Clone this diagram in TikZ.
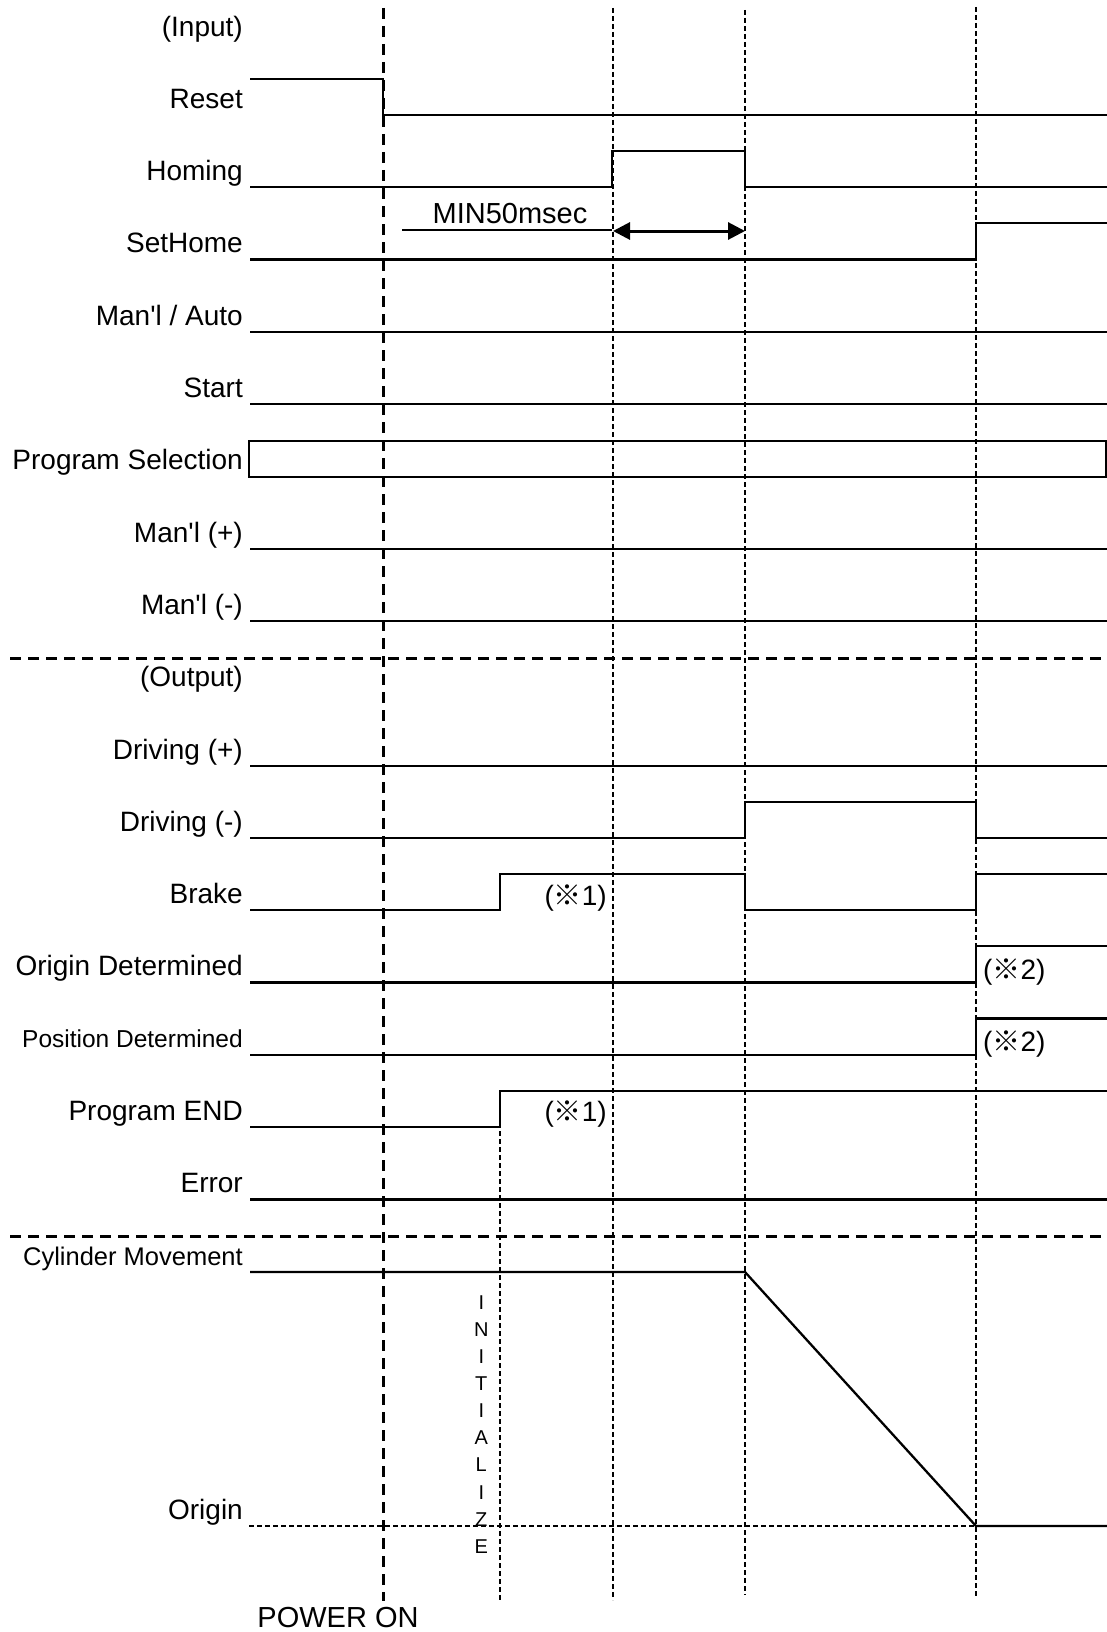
\documentclass[tikz,border=0pt]{standalone}
\usepackage{fontspec}
\setmainfont{Liberation Sans}
\newfontfamily\arialfont{Liberation Sans}
\newfontfamily\cjkfont{Noto Sans CJK JP}
\usetikzlibrary{arrows.meta}
\newcommand{\komemark}{{\cjkfont ※}}
\begin{document}
\begin{tikzpicture}[x=1pt,y=-1pt,
  sig/.style={line width=2.3pt, line join=miter},
  thickdash/.style={line width=3pt, dash pattern=on 11pt off 7pt},
  thindash/.style={line width=1.6pt, dash pattern=on 5pt off 3pt},
  lbl/.style={anchor=base east, inner sep=0pt, font=\arialfont\fontsize{28}{32}\selectfont},
  smalllbl/.style={anchor=base east, inner sep=0pt, font=\arialfont\fontsize{24.5}{28}\selectfont},
  note/.style={inner sep=0pt, font=\arialfont\fontsize{28}{32}\selectfont},
  initletter/.style={inner sep=0pt, anchor=center, font=\arialfont\fontsize{20}{24}\selectfont},
  dimarrow/.style={line width=3pt, {Triangle[length=17pt,width=17pt]}-{Triangle[length=17pt,width=17pt]}}
]
\useasboundingbox (0,0) rectangle (1107,1632);

% ---- labels
\node[lbl] (lInput) at (243,36.5) {(Input)};
\node[lbl] (lReset) at (243,108.3) {Reset};
\node[lbl] (lHoming) at (243,180.6) {Homing};
\node[lbl] (lSetHome) at (243,252.9) {SetHome};
\node[lbl] (lManAuto) at (243,325.2) {Man'l / Auto};
\node[lbl] (lStart) at (243,397.5) {Start};
\node[lbl] (lProgSel) at (243,469.8) {Program Selection};
\node[lbl] (lManP) at (243,542.1) {Man'l (+)};
\node[lbl] (lManM) at (243,614.4) {Man'l (-)};
\node[lbl] (lOutput) at (243,686.7) {(Output)};
\node[lbl] (lDrvP) at (243,759.0) {Driving (+)};
\node[lbl] (lDrvM) at (243,831.3) {Driving (-)};
\node[lbl] (lBrake) at (243,903.6) {Brake};
\node[lbl] (lOrgDet) at (243,975.9) {Origin Determined};
\node[smalllbl] (lPosDet) at (243,1047.7) {Position Determined};
\node[lbl] (lPEnd) at (243,1120.5) {Program END};
\node[lbl] (lError) at (243,1192.8) {Error};
\node[anchor=base east, inner sep=0pt, font=\arialfont\fontsize{25.5}{29}\selectfont] (lCyl) at (243,1265) {Cylinder Movement};
\node[lbl] (lOrigin) at (243,1519) {Origin};

% ---- vertical timing lines
\draw[thickdash] (383,8) -- (383,1601);
\draw[thindash] (613,8) -- (613,1600);
\draw[thindash] (745,10) -- (745,1595);
\draw[thindash] (976,7) -- (976,1598);
\draw[thindash] (500,1091) -- (500,1601);

% ---- section separators
\draw[thickdash] (10,658.7) -- (1107,658.7);
\draw[thickdash] (10,1236.5) -- (1107,1236.5);

% ---- inputs
\draw[sig] (250,78.7) -- (383,78.7) -- (383,115) -- (1107,115);
\draw[sig] (250,187.3) -- (612,187.3) -- (612,151) -- (745,151) -- (745,187.3) -- (1107,187.3);
\draw[sig] (250,259.6) -- (976,259.6) -- (976,223.3) -- (1107,223.3);
\draw[sig] (250,331.9) -- (1107,331.9);
\draw[sig] (250,404.2) -- (1107,404.2);
\draw[line width=2pt] (249,440.5) rectangle (1106,476.5);
\draw[sig] (250,548.8) -- (1107,548.8);
\draw[sig] (250,621.1) -- (1107,621.1);

% ---- MIN50msec
\node[anchor=base, inner sep=0pt, font=\arialfont\fontsize{29}{33}\selectfont] (tMin) at (510,223) {MIN50msec};
\draw[line width=1.6pt] (402,230) -- (612,230);
\draw[dimarrow] (613,231) -- (745,231);

% ---- outputs
\draw[sig] (250,765.7) -- (1107,765.7);
\draw[sig] (250,838) -- (745,838) -- (745,801.7) -- (976,801.7) -- (976,838) -- (1107,838);
\draw[sig] (250,910.3) -- (500,910.3) -- (500,874) -- (745,874) -- (745,910.3) -- (976,910.3) -- (976,874) -- (1107,874);
\draw[sig] (250,982.6) -- (976,982.6) -- (976,946.3) -- (1107,946.3);
\draw[sig] (250,1054.9) -- (976,1054.9) -- (976,1018.6) -- (1107,1018.6);
\draw[sig] (250,1127.2) -- (500,1127.2) -- (500,1090.9) -- (1107,1090.9);
\draw[sig] (250,1199.5) -- (1107,1199.5);

% ---- notes
\node[note, anchor=base east] (n1a) at (607,905) {(\komemark1)};
\node[note, anchor=base east] (n1b) at (607,1121.7) {(\komemark1)};
\node[note, anchor=base west] (n2a) at (983,979.5) {(\komemark2)};
\node[note, anchor=base west] (n2b) at (983,1051.7) {(\komemark2)};

% ---- cylinder movement
\draw[thindash] (249,1526) -- (976,1526);
\draw[sig] (250,1272) -- (745,1272) -- (976,1526) -- (1107,1526);

% ---- INITIALIZE
\foreach \ch [count=\i from 0] in {I,N,I,T,I,A,L,I,Z,E}
  \node[initletter] (init\i) at (481.3,{1302.5+27.1*\i}) {\ch};

% ---- POWER ON
\node[anchor=base, inner sep=0pt, font=\arialfont\fontsize{29}{33}\selectfont] (tPower) at (338,1627) {POWER ON};
\end{tikzpicture}
\end{document}
